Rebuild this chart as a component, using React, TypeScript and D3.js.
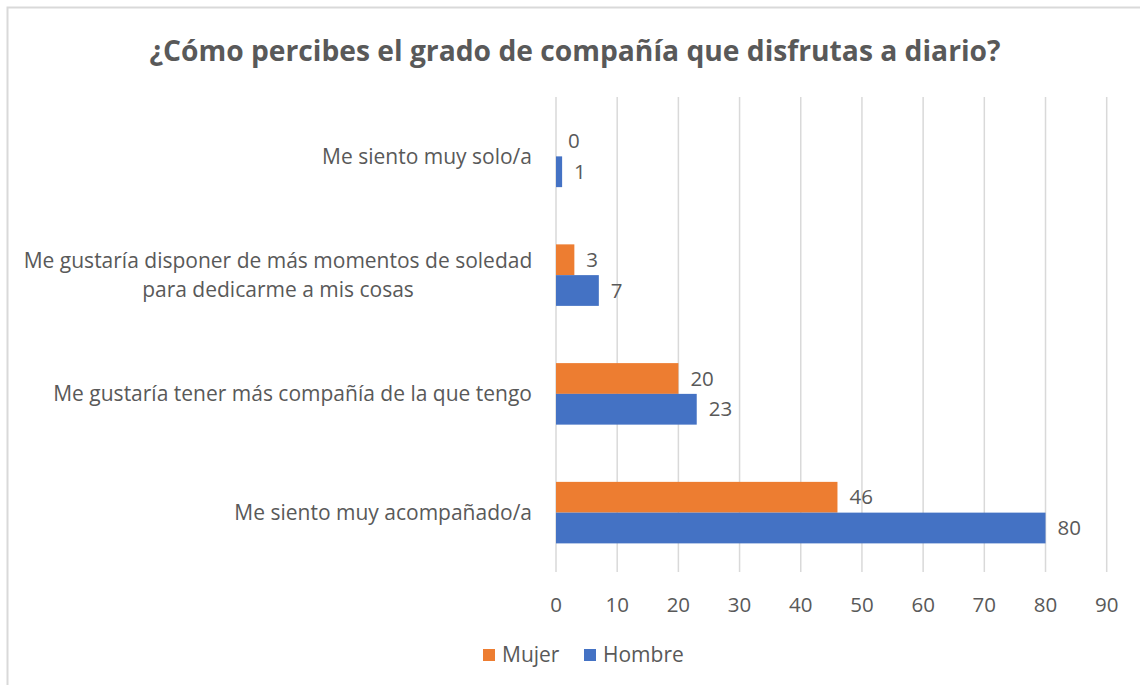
import React from "react";
import * as d3 from "d3";

const title = "¿Cómo percibes el grado de compañía que disfrutas a diario?";
const categories: string[][] = [
  ["Me siento muy solo/a"],
  ["Me gustaría disponer de más momentos de soledad", "para dedicarme a mis cosas"],
  ["Me gustaría tener más compañía de la que tengo"],
  ["Me siento muy acompañado/a"],
];
const seriesNames = ["Mujer", "Hombre"];
const mujer = [0, 3, 20, 46];
const hombre = [1, 7, 23, 80];
const xTicks = [0, 10, 20, 30, 40, 50, 60, 70, 80, 90];
const colors = ["#ED7D31", "#4472C4"];

const W = 1140;
const H = 685;
const FONT = "'Open Sans', 'Noto Sans', sans-serif";
const TEXT = "#595959";

export default function App() {
  const x = d3.scaleLinear().domain([0, 90]).range([556, 1106.7]);
  const idx = categories.map((_, i) => String(i));
  const y = d3.scaleBand().domain(idx).range([97, 572]).paddingInner(0.482).paddingOuter(0.241);
  const ySub = d3.scaleBand().domain(seriesNames).range([0, y.bandwidth()]);
  const values = [mujer, hombre];
  const labelFont = 21;
  const tickFont = 20.5;

  return (
    <svg width={W} height={H} style={{ position: "absolute", left: 0, top: 0, background: "#fff" }}>
      <rect x={0} y={0} width={W} height={H} fill="#fff" />
      <rect x={7.5} y={7.5} width={W + 20} height={H + 20} fill="none" stroke="#D9D9D9" strokeWidth={2} />
      <text
        x={575}
        y={61}
        textAnchor="middle"
        fontFamily={FONT}
        fontWeight="bold"
        fontSize={28.5}
        fill={TEXT}
        textLength={851}
        lengthAdjust="spacingAndGlyphs"
      >
        {title}
      </text>
      {xTicks.map((t) => (
        <g key={t}>
          <line x1={x(t)} x2={x(t)} y1={97} y2={572} stroke="#D9D9D9" strokeWidth={1.5} />
          <text x={x(t)} y={605} dy="0.35em" textAnchor="middle" fontFamily={FONT} fontSize={tickFont} fill={TEXT}>
            {t}
          </text>
        </g>
      ))}
      {categories.map((lines, i) => {
        const cy = (y(String(i)) as number) + y.bandwidth() / 2;
        const lh = 29;
        const startY = cy - ((lines.length - 1) * lh) / 2;
        const anchorX = 532;
        if (lines.length === 1) {
          return (
            <text key={i} x={anchorX} y={cy} dy="0.35em" textAnchor="end" fontFamily={FONT} fontSize={labelFont} fill={TEXT}>
              {lines[0]}
            </text>
          );
        }
        return (
          <text key={i} x={278} textAnchor="middle" fontFamily={FONT} fontSize={labelFont} fill={TEXT}>
            {lines.map((l, j) => (
              <tspan key={j} x={278} y={startY + j * lh} dy="0.35em">
                {l}
              </tspan>
            ))}
          </text>
        );
      })}
      {values.map((vals, s) =>
        vals.map((v, i) => {
          const by = (y(String(i)) as number) + (ySub(seriesNames[s]) as number);
          const bh = ySub.bandwidth();
          return (
            <g key={`${s}-${i}`}>
              {v > 0 && <rect x={x(0)} y={by} width={x(v) - x(0)} height={bh} fill={colors[s]} />}
              <text
                x={x(v) + 12}
                y={by + bh / 2}
                dy="0.35em"
                fontFamily={FONT}
                fontSize={tickFont}
                fill={TEXT}
              >
                {v}
              </text>
            </g>
          );
        })
      )}
      <g>
        <rect x={483} y={649} width={12} height={12} fill={colors[0]} />
        <text x={502} y={655} dy="0.35em" fontFamily={FONT} fontSize={labelFont} fill={TEXT}>
          {seriesNames[0]}
        </text>
        <rect x={584} y={649} width={12} height={12} fill={colors[1]} />
        <text x={603} y={655} dy="0.35em" fontFamily={FONT} fontSize={labelFont} fill={TEXT}>
          {seriesNames[1]}
        </text>
      </g>
    </svg>
  );
}
